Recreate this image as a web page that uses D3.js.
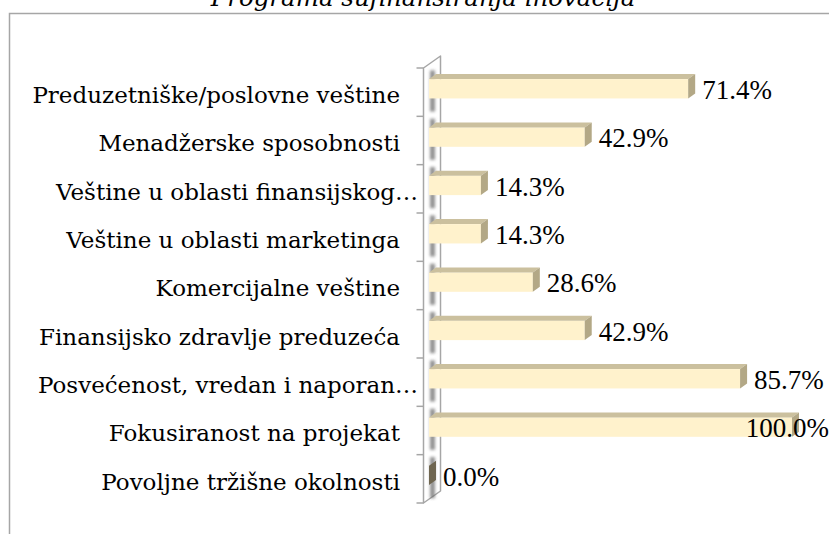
<!DOCTYPE html>
<html>
<head>
<meta charset="utf-8">
<script src="https://cdn.jsdelivr.net/npm/d3@7"></script>
<style>
  body { margin: 0; background: #fff; overflow: hidden; }
  .cat-label { font-family: "DejaVu Serif", serif; font-size: 23px; fill: #000; }
  .val-label { font-family: "Liberation Serif", serif; font-size: 27px; fill: #000; }
  .title { font-family: "DejaVu Serif", serif; font-style: italic; font-size: 24.5px; fill: #000; }
</style>
</head>
<body>
<svg class="bar-chart"></svg>
<script>
// data
const chartTitle = "Programa sufinansiranja inovacija";
const categories = [
  "Preduzetniške/poslovne veštine",
  "Menadžerske sposobnosti",
  "Veštine u oblasti finansijskog…",
  "Veštine u oblasti marketinga",
  "Komercijalne veštine",
  "Finansijsko zdravlje preduzeća",
  "Posvećenost, vredan i naporan…",
  "Fokusiranost na projekat",
  "Povoljne tržišne okolnosti"
];
const shares = [0.714, 0.429, 0.143, 0.143, 0.286, 0.429, 0.857, 1.0, 0.0];

const width = 829;
const height = 534;

// 3d depth of bars and of the axis wall
const barDx = 7, barDy = -5;
const wallDx = 17, wallDy = -12;

var svg = d3.select(".bar-chart")
  .attr("width", width)
  .attr("height", height);

var defs = svg.append("defs");
defs.append("filter")
  .attr("id", "blur")
  .attr("x", "-100%").attr("width", "300%")
  .append("feGaussianBlur")
  .attr("stdDeviation", 1.6);

// chart area border (runs off the right and bottom edge)
svg.append("rect")
  .attr("x", 9.5)
  .attr("y", 13.5)
  .attr("width", width + 20)
  .attr("height", height + 20)
  .attr("fill", "#fff")
  .attr("stroke", "#a6a6a6")
  .attr("stroke-width", 1.5);

svg.append("text")
  .attr("class", "title")
  .attr("x", 423)
  .attr("y", 6)
  .attr("text-anchor", "middle")
  .text(chartTitle);

const yScale = d3.scaleBand()
  .domain(categories)
  .range([68, 503])
  .padding(0);

const xScale = d3.scaleLinear()
  .domain([0, 1])
  .range([429, 792]);

const bw = yScale.bandwidth();
const wallX = 423.5;
const plotTop = yScale.range()[0], plotBottom = yScale.range()[1];

// axis wall
svg.append("path")
  .attr("d", "M" + wallX + "," + plotBottom +
    "L" + wallX + "," + plotTop +
    "L" + (wallX + wallDx) + "," + (plotTop + wallDy) +
    "L" + (wallX + wallDx) + "," + (plotBottom + wallDy) + "Z")
  .attr("fill", "#fff")
  .attr("stroke", "#a6a6a6")
  .attr("stroke-width", 1.5)
  .attr("stroke-linejoin", "round");

// tick marks at the band edges
var tickYs = categories.map(c => yScale(c)).concat([plotBottom]);
svg.selectAll("line.tick")
  .data(tickYs)
  .enter().append("line")
  .attr("class", "tick")
  .attr("x1", wallX - 7)
  .attr("x2", wallX)
  .attr("y1", d => d)
  .attr("y2", d => d)
  .attr("stroke", "#a6a6a6")
  .attr("stroke-width", 1.5);

// soft shadows of the bars on the wall
svg.selectAll("rect.shadow")
  .data(categories)
  .enter().append("rect")
  .attr("class", "shadow")
  .attr("x", 430)
  .attr("y", d => yScale(d) + bw * 0.05)
  .attr("width", 5)
  .attr("height", bw * 0.85)
  .attr("fill", "#6d6d6d")
  .attr("opacity", 0.75)
  .attr("filter", "url(#blur)");

var bars = svg.selectAll("g.bar")
  .data(categories.map((c, i) => ({cat: c, v: shares[i]})))
  .enter().append("g")
  .attr("class", "bar");

function faceTop(d) {
  var y0 = yScale(d.cat) + bw * 0.23;
  var x0 = xScale(0), x1 = xScale(d.v);
  return [[x0, y0], [x0 + barDx, y0 + barDy], [x1 + barDx, y0 + barDy], [x1, y0]];
}
function faceSide(d) {
  var y0 = yScale(d.cat) + bw * 0.23;
  var y1 = y0 + bw * 0.4;
  var x1 = xScale(d.v);
  return [[x1, y0], [x1 + barDx, y0 + barDy], [x1 + barDx, y1 + barDy], [x1, y1]];
}
var poly = d3.line();

bars.append("rect")
  .attr("x", xScale(0))
  .attr("y", d => yScale(d.cat) + bw * 0.23)
  .attr("width", d => xScale(d.v) - xScale(0))
  .attr("height", bw * 0.4)
  .attr("fill", "#fff2cc");

bars.append("path")
  .attr("d", d => poly(faceTop(d)) + "Z")
  .attr("fill", "#cbc09e");

bars.append("path")
  .attr("d", d => poly(faceSide(d)) + "Z")
  .attr("fill", d => d.v === 0 ? "#6f6650" : "#b3a886");

// category labels, truncated ones reach closer to the axis
svg.selectAll("text.cat-label")
  .data(categories)
  .enter().append("text")
  .attr("class", "cat-label")
  .attr("x", d => d.endsWith("…") ? 418 : 400)
  .attr("y", d => yScale(d) + 35)
  .attr("text-anchor", "end")
  .text(d => d);

// value labels
svg.selectAll("text.val-label")
  .data(shares)
  .enter().append("text")
  .attr("class", "val-label")
  .attr("y", (d, i) => yScale(categories[i]) + 31)
  .text(d => d3.format(".1%")(d))
  .attr("x", function(d) {
    var w = this.getComputedTextLength();
    return Math.min(xScale(d) + barDx + 7, width - w);
  });
</script>
</body>
</html>
